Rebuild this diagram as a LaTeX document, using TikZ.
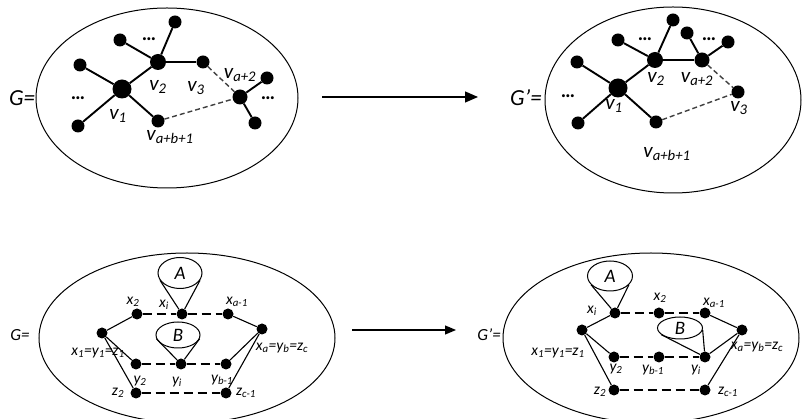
\documentclass[tikz,border=0pt]{standalone}
\usepackage{fontspec}
\setmainfont{Carlito}
\usetikzlibrary{shapes.geometric,arrows.meta}

\tikzset{
  dot/.style={circle,fill=black,inner sep=0pt,minimum size=13pt},
  sdot/.style={circle,fill=black,inner sep=0pt,minimum size=11pt},
  edge/.style={line width=1.9pt},
  dedge/.style={line width=1.4pt,dash pattern=on 5pt off 3pt,black!75},
  bedge/.style={line width=1.1pt},
  bdash/.style={line width=1.4pt,dash pattern=on 9pt off 5pt},
  frame/.style={line width=1pt},
  tlab/.style={font=\fontsize{21}{23}\selectfont\itshape,inner sep=0pt},
  blab/.style={font=\fontsize{15.5}{17}\selectfont\itshape,inner sep=0pt},
  glab/.style={font=\fontsize{23}{25}\selectfont\itshape,inner sep=0pt},
  gblab/.style={font=\fontsize{17}{19}\selectfont\itshape,inner sep=0pt},
  dots/.style={font=\fontsize{20}{22}\selectfont\bfseries,inner sep=0pt},
  cone/.style={draw,ellipse,line width=1pt,inner sep=0pt,font=\fontsize{19}{21}\selectfont\itshape},
  mapsto/.style={line width=1.3pt,-{Triangle[length=13pt,width=11pt]}},
}

\begin{document}
\begin{tikzpicture}[x=1pt,y=-1pt]
\useasboundingbox (0,0) rectangle (804,419);
\clip (0,0) rectangle (804,419);

% ---------- top: G ----------
\draw[frame] (167,98) ellipse [x radius=131,y radius=90];
\node[glab] (gA) at (22,98) {G=};
\node[dot,minimum size=19pt] (a1) at (122,89) {};
\node[dot,minimum size=16pt] (a2) at (158,62) {};
\node[dot] (a3) at (203,62) {};
\node[dot] (at) at (175,22) {};
\node[dot] (aul) at (120,40) {};
\node[dot] (al) at (80,65) {};
\node[dot] (abl) at (78,126) {};
\node[dot] (aab) at (158,121) {};
\node[dot,minimum size=15pt] (aa2) at (240,97) {};
\node[dot] (aur) at (267,78) {};
\node[dot] (alr) at (255,123) {};
\draw[edge] (a1) -- (a2);
\draw[edge] (a1) -- (al);
\draw[edge] (a1) -- (abl);
\draw[edge] (a1) -- (aab);
\draw[edge] (a2) -- (at);
\draw[edge] (a2) -- (aul);
\draw[edge] (a2) -- (a3);
\draw[edge] (aa2) -- (aur);
\draw[edge] (aa2) -- (alr);
\draw[dedge] (a3) -- (aa2);
\draw[dedge] (aab) -- (aa2);
\node[tlab] (la1) at (118,116) {v\textsubscript{1}};
\node[tlab] (la2) at (158,87) {v\textsubscript{2}};
\node[tlab] (la3) at (196,88) {v\textsubscript{3}};
\node[tlab] (laa2) at (240,75) {v\textsubscript{a+2}};
\node[tlab] (laab) at (170,137) {v\textsubscript{a+b+1}};
\node[dots] (da1) at (149,39) {…};
\node[dots] (da2) at (78,98) {…};
\node[dots] (da3) at (268,98) {…};

% ---------- top arrow ----------
\coordinate (t1) at (322,97);
\coordinate (t2) at (478,97);
\draw[mapsto] (t1) -- (t2);

% ---------- top: G' ----------
\draw[frame] (673,100) ellipse [x radius=128,y radius=93];
\node[glab] (gB) at (526,98) {G'=};
\node[dot,minimum size=19pt] (b1) at (618,88) {};
\node[dot,minimum size=16pt] (b2) at (655,60) {};
\node[dot,minimum size=15pt] (ba2) at (702,60) {};
\node[dot] (bt) at (673,20) {};
\node[dot] (bul) at (618,40) {};
\node[dot] (bl) at (577,62) {};
\node[dot] (bbl) at (578,123) {};
\node[dot] (bab) at (656,122) {};
\node[dot] (b3) at (738,92) {};
\node[dot] (bc1) at (687,33) {};
\node[dot] (bc2) at (728,42) {};
\draw[edge] (b1) -- (b2);
\draw[edge] (b1) -- (bl);
\draw[edge] (b1) -- (bbl);
\draw[edge] (b1) -- (bab);
\draw[edge] (b2) -- (bt);
\draw[edge] (b2) -- (bul);
\draw[edge] (b2) -- (ba2);
\draw[edge] (ba2) -- (bc1);
\draw[edge] (ba2) -- (bc2);
\draw[dedge] (ba2) -- (b3);
\draw[dedge] (bab) -- (b3);
\node[tlab] (lb1) at (614,106) {v\textsubscript{1}};
\node[tlab] (lb2) at (656,79) {v\textsubscript{2}};
\node[tlab] (lba2) at (697,79) {v\textsubscript{a+2}};
\node[tlab] (lb3) at (739,108) {v\textsubscript{3}};
\node[tlab] (lbab) at (667,154) {v\textsubscript{a+b+1}};
\node[dots] (db1) at (645,39) {…};
\node[dots] (db2) at (568,96) {…};
\node[dots] (db3) at (709,39) {…};

% ---------- bottom: G ----------
\draw[frame] (187,338) ellipse [x radius=148,y radius=85];
\node[gblab] (gC) at (20,335) {G=};
\node[sdot] (c1) at (102,333) {};
\node[sdot] (cx2) at (137,314) {};
\node[sdot] (cxi) at (182,314) {};
\node[sdot] (cxa) at (228,314) {};
\node[sdot] (cxb) at (262,329) {};
\node[sdot] (cy2) at (136,364) {};
\node[sdot] (cyi) at (181,364) {};
\node[sdot] (cyb) at (226,364) {};
\node[sdot] (cz2) at (136,393) {};
\node[sdot] (czc) at (226,393) {};
\node[cone,minimum width=44pt,minimum height=31pt] (cA) at (180,273) {A};
\node[cone,minimum width=44pt,minimum height=26pt] (cB) at (178,335) {B};
\draw[bedge] (cA.200) -- (cxi) -- (cA.340);
\draw[bedge] (cB.190) -- (cyi) -- (cB.350);
\draw[bedge] (c1) -- (cx2);
\draw[bedge] (cxa) -- (cxb);
\draw[bedge] (c1) -- (cy2);
\draw[bedge] (cyb) -- (cxb);
\draw[bedge] (c1) -- (cz2);
\draw[bedge] (czc) -- (cxb);
\draw[bdash] (cx2) -- (cxi) -- (cxa);
\draw[bdash] (cy2) -- (cyi) -- (cyb);
\draw[bdash] (cz2) -- (czc);
\node[blab] (lcx2) at (133,302) {x\textsubscript{2}};
\node[blab] (lcxi) at (164,305) {x\textsubscript{i}};
\node[blab] (lcxa) at (237,302) {x\textsubscript{a-1}};
\node[blab] (lc1) at (98,353) {x\textsubscript{1}=y\textsubscript{1}=z\textsubscript{1}};
\node[blab] (lcxb) at (282,348) {x\textsubscript{a}=y\textsubscript{b}=z\textsubscript{c}};
\node[blab] (lcy2) at (140,381) {y\textsubscript{2}};
\node[blab] (lcyi) at (177,382) {y\textsubscript{i}};
\node[blab] (lcyb) at (222,380) {y\textsubscript{b-1}};
\node[blab] (lcz2) at (118,393) {z\textsubscript{2}};
\node[blab] (lczc) at (246,393) {z\textsubscript{c-1}};

% ---------- bottom arrow ----------
\coordinate (u1) at (352,330);
\coordinate (u2) at (456,330);
\draw[line width=1.2pt,-{Triangle[length=11pt,width=9pt]}] (u1) -- (u2);

% ---------- bottom: G' ----------
\draw[frame] (651,338) ellipse [x radius=148,y radius=85];
\node[gblab] (gD) at (489,335) {G'=};
\node[sdot] (d1) at (582,330) {};
\node[sdot] (dxi) at (615,313) {};
\node[sdot] (dx2) at (659,313) {};
\node[sdot] (dxa) at (705,313) {};
\node[sdot] (dxb) at (742,330) {};
\node[sdot] (dy2) at (614,357) {};
\node[sdot] (dyb) at (659,357) {};
\node[sdot] (dyi) at (705,357) {};
\node[sdot] (dz2) at (614,390) {};
\node[sdot] (dzc) at (705,390) {};
\node[cone,minimum width=45pt,minimum height=30pt] (dA) at (610,276) {A};
\node[cone,minimum width=45pt,minimum height=22pt] (dB) at (680,328) {B};
\draw[bedge] (dA.205) -- (dxi) -- (dA.335);
\draw[bedge] (dB.200) -- (dyi) -- (dB.355);
\draw[bedge] (d1) -- (dxi);
\draw[bedge] (dxa) -- (dxb);
\draw[bedge] (d1) -- (dy2);
\draw[bedge] (dyi) -- (dxb);
\draw[bedge] (d1) -- (dz2);
\draw[bedge] (dzc) -- (dxb);
\draw[bdash] (dxi) -- (dx2) -- (dxa);
\draw[bdash] (dy2) -- (dyb) -- (dyi);
\draw[bdash] (dz2) -- (dzc);
\node[blab] (ldxi) at (592,311) {x\textsubscript{i}};
\node[blab] (ldx2) at (660,298) {x\textsubscript{2}};
\node[blab] (ldxa) at (714,303) {x\textsubscript{a-1}};
\node[blab] (ld1) at (558,353) {x\textsubscript{1}=y\textsubscript{1}=z\textsubscript{1}};
\node[blab] (ldxb) at (757,347) {x\textsubscript{a}=y\textsubscript{b}=z\textsubscript{c}};
\node[blab] (ldy2) at (616,369) {y\textsubscript{2}};
\node[blab] (ldyb) at (653,370) {y\textsubscript{b-1}};
\node[blab] (ldyi) at (696,370) {y\textsubscript{i}};
\node[blab] (ldz2) at (600,392) {z\textsubscript{2}};
\node[blab] (ldzc) at (728,392) {z\textsubscript{c-1}};
\end{tikzpicture}
\end{document}
